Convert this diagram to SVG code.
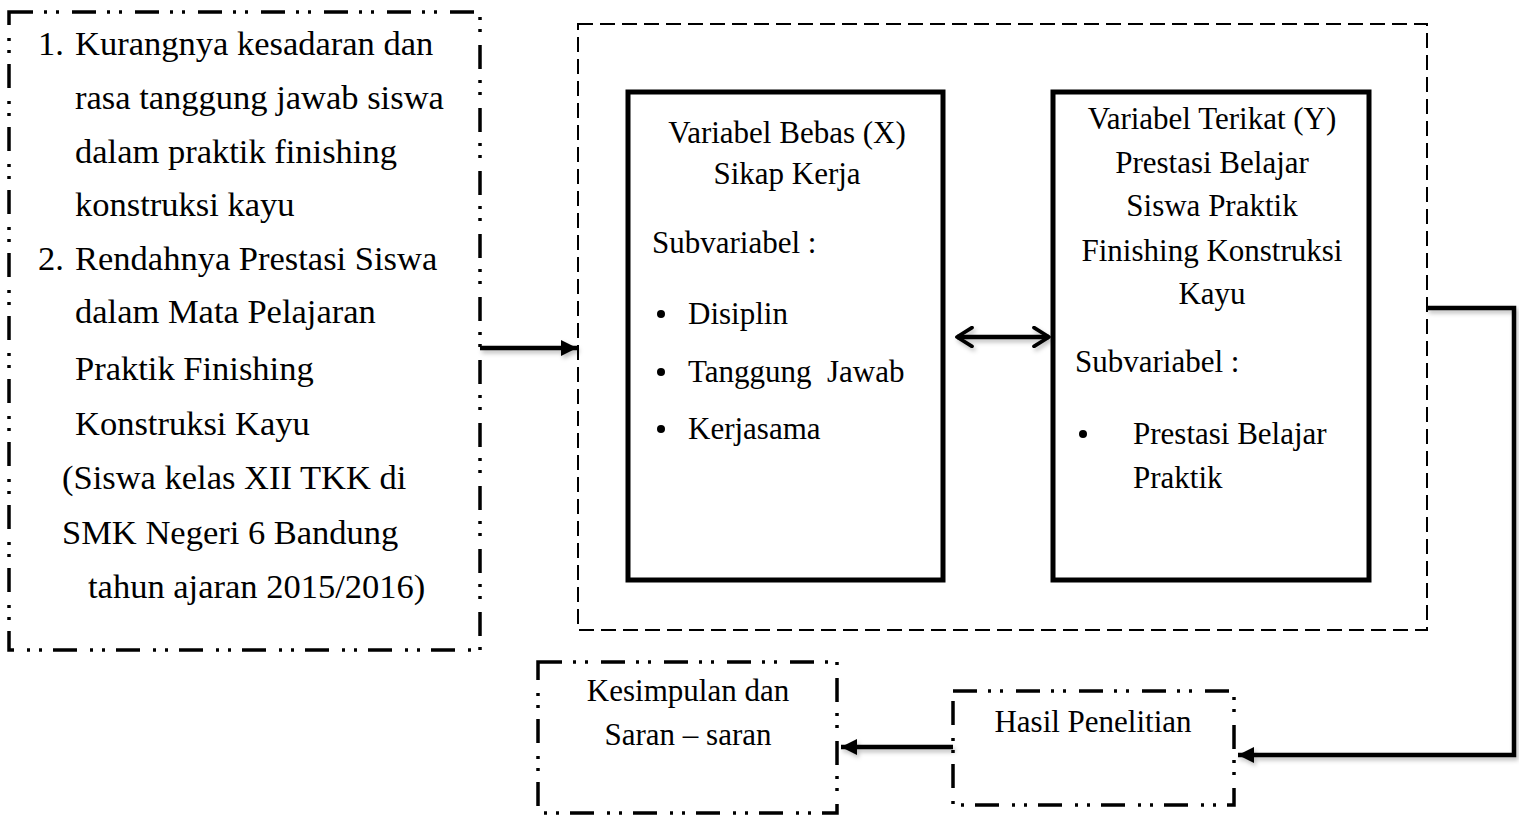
<svg xmlns="http://www.w3.org/2000/svg" width="1519" height="819" viewBox="0 0 1519 819">
<style>
text{font-family:"Liberation Serif","Times New Roman",serif;font-size:31px;fill:#000}
.l{font-size:34.5px}
.c{text-anchor:middle}
.dd{fill:none;stroke:#000;stroke-width:3.5;stroke-dasharray:24 11 3 9 3 13}
.dash{fill:none;stroke:#000;stroke-width:2;stroke-dasharray:15 7}
.solid{fill:#fff;stroke:#000;stroke-width:5}
.conn{fill:none;stroke:#000;stroke-width:4.5}
</style>
<defs>
<marker id="tri" viewBox="0 0 10 10" refX="10" refY="5" markerWidth="3.6" markerHeight="3.6" orient="auto" markerUnits="strokeWidth">
<path d="M0,0 L10,5 L0,10 z" fill="#000"/>
</marker>
<marker id="chev" viewBox="0 0 12 12" refX="10" refY="6" markerWidth="5" markerHeight="5" orient="auto-start-reverse" markerUnits="strokeWidth">
<path d="M2,1 L10,6 L2,11" fill="none" stroke="#000" stroke-width="2" stroke-linecap="round" stroke-linejoin="round"/>
</marker>
<filter id="sh" x="-10%" y="-50%" width="120%" height="200%">
<feDropShadow dx="2" dy="3" stdDeviation="2" flood-color="#000" flood-opacity="0.25"/>
</filter>
</defs>
<g id="masalah">
<rect class="dd" x="9" y="12" width="471" height="638"/>
<text class="l" x="38" y="55">1.</text><text class="l" x="75" y="55">Kurangnya kesadaran dan</text>
<text class="l" x="75" y="109">rasa tanggung jawab siswa</text>
<text class="l" x="75" y="163">dalam praktik finishing</text>
<text class="l" x="75" y="216">konstruksi kayu</text>
<text class="l" x="38" y="270">2.</text><text class="l" x="75" y="270">Rendahnya Prestasi Siswa</text>
<text class="l" x="75" y="323">dalam Mata Pelajaran</text>
<text class="l" x="75" y="380">Praktik Finishing</text>
<text class="l" x="75" y="435">Konstruksi Kayu</text>
<text class="l" x="62" y="489">(Siswa kelas XII TKK di</text>
<text class="l" x="62" y="544">SMK Negeri 6 Bandung</text>
<text class="l" x="88" y="598">tahun ajaran 2015/2016)</text>
</g>
<g id="variabel">
<rect class="dash" x="578" y="24" width="849" height="606"/>
</g>
<g id="varX">
<rect class="solid" x="628" y="92" width="315" height="488"/>
<text class="c" x="787" y="143">Variabel Bebas (X)</text>
<text class="c" x="787" y="184">Sikap Kerja</text>
<text x="652" y="253">Subvariabel :</text>
<circle cx="661" cy="314" r="4"/><text x="688" y="324">Disiplin</text>
<circle cx="661" cy="372" r="4"/><text x="688" y="382" xml:space="preserve">Tanggung  Jawab</text>
<circle cx="661" cy="429" r="4"/><text x="688" y="439">Kerjasama</text>
</g>
<g id="varY">
<rect class="solid" x="1053" y="92" width="316" height="488"/>
<text class="c" x="1212" y="129">Variabel Terikat (Y)</text>
<text class="c" x="1212" y="173">Prestasi Belajar</text>
<text class="c" x="1212" y="216">Siswa Praktik</text>
<text class="c" x="1212" y="261">Finishing Konstruksi</text>
<text class="c" x="1212" y="304">Kayu</text>
<text x="1075" y="372">Subvariabel :</text>
<circle cx="1083" cy="434" r="4"/><text x="1133" y="444">Prestasi Belajar</text>
<text x="1133" y="488">Praktik</text>
</g>
<g id="hasil">
<rect class="dd" x="953" y="691" width="281" height="114"/>
<text class="c" x="1093" y="732">Hasil Penelitian</text>
</g>
<g id="kesimpulan">
<rect class="dd" x="538" y="662" width="299" height="151"/>
<text class="c" x="688" y="701">Kesimpulan dan</text>
<text class="c" x="688" y="745">Saran – saran</text>
</g>
<g id="connectors" filter="url(#sh)">
<line class="conn" x1="480" y1="348" x2="577" y2="348" marker-end="url(#tri)"/>
<line class="conn" x1="957" y1="337" x2="1049" y2="337" marker-start="url(#chev)" marker-end="url(#chev)"/>
<polyline class="conn" points="1427,308 1514,308 1514,755 1238,755" marker-end="url(#tri)"/>
<line class="conn" x1="953" y1="747" x2="841" y2="747" marker-end="url(#tri)"/>
</g>
</svg>
